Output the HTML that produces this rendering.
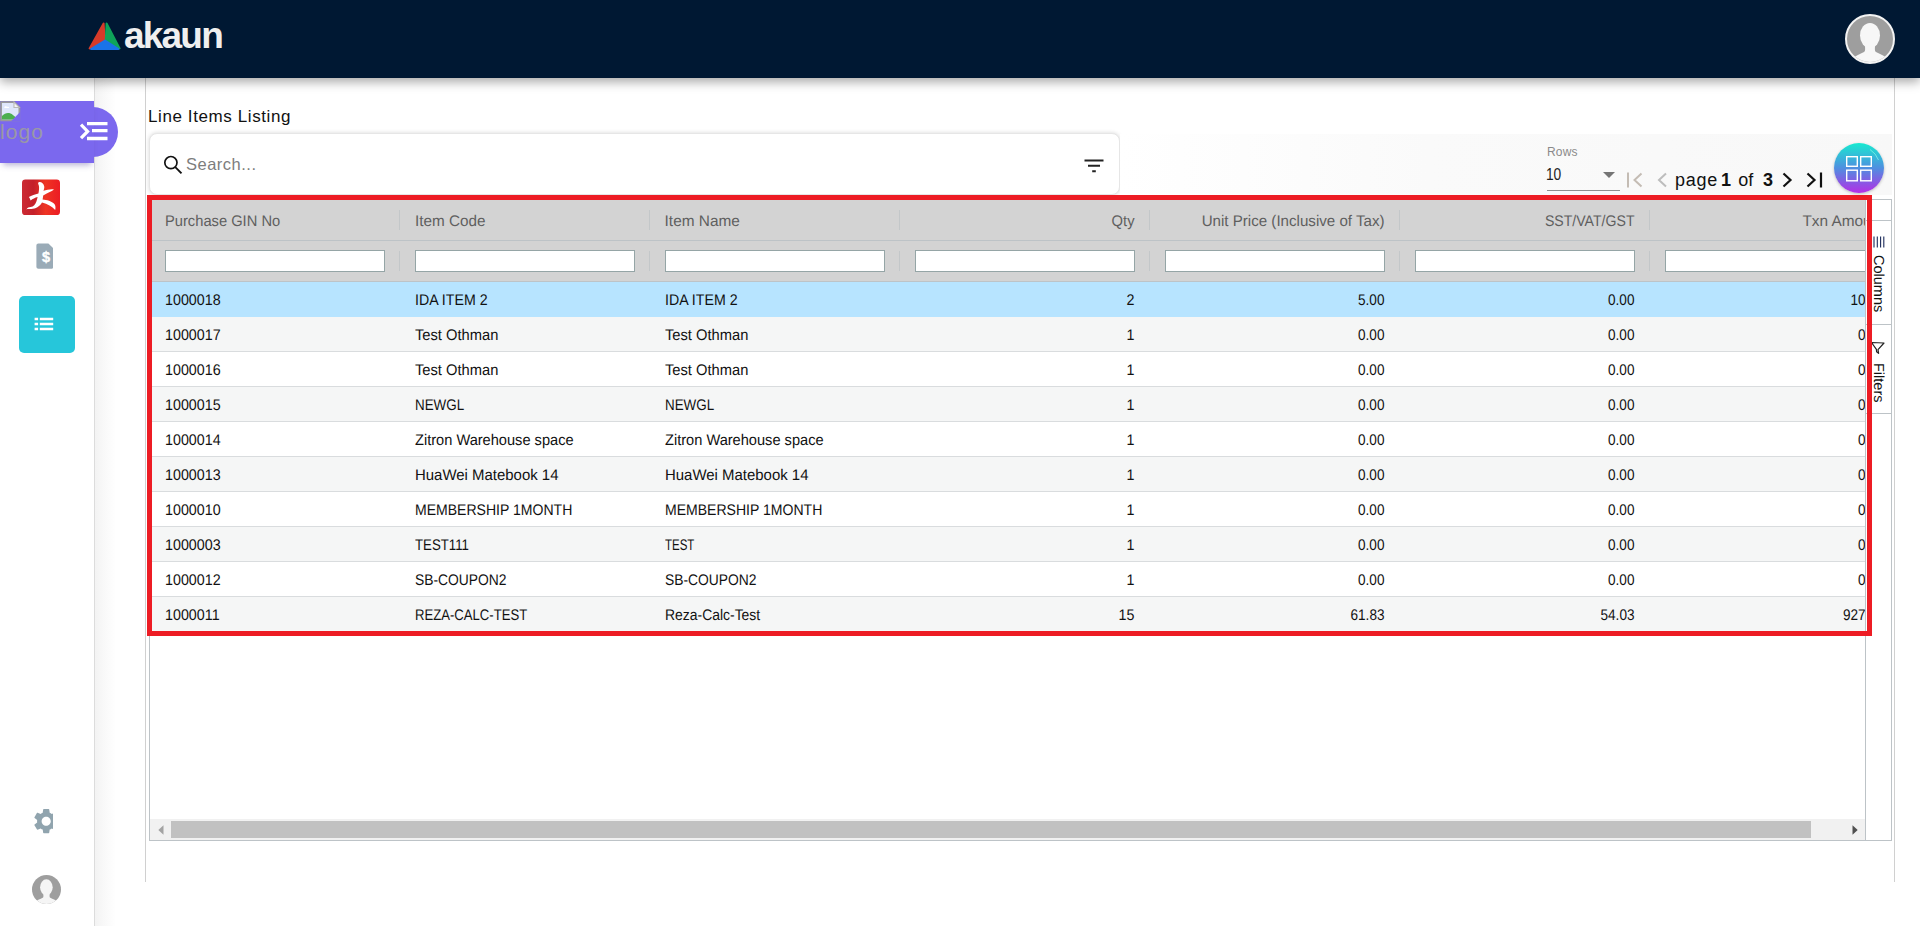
<!DOCTYPE html>
<html lang="en">
<head>
<meta charset="utf-8">
<title>Line Items Listing</title>
<style>
*{box-sizing:border-box;margin:0;padding:0}
html,body{width:1920px;height:926px;overflow:hidden;background:#fff}
body{position:relative;font-family:"Liberation Sans","DejaVu Sans",sans-serif;color:#000}
.abs{position:absolute}
/* top bar */
#topbar{position:absolute;left:0;top:0;width:1920px;height:78px;background:#001833;box-shadow:0 4px 10px rgba(0,0,0,.34);z-index:30}
#brand{position:absolute;left:124px;top:16px;color:#efefef;font-weight:bold;font-size:37px;line-height:40px;letter-spacing:-1.8px;white-space:nowrap}
#avatarTop{position:absolute;left:1845px;top:14px;width:50px;height:50px;border-radius:50%;background:#9e9e9e;border:2px solid #f3f3f3;overflow:hidden}
/* left rail */
#rail{position:absolute;left:0;top:78px;width:95px;height:848px;background:#fff;border-right:1px solid #dcdcdc;z-index:5}
#railshade{position:absolute;left:95px;top:78px;width:50px;height:848px;background:linear-gradient(90deg,#f3f3f3 0,#f8f8f8 8px,#fff 21px);z-index:1}
#vline1{position:absolute;left:145px;top:78px;width:1px;height:804px;background:#d0d0d0;z-index:2}
#vline2{position:absolute;left:1894px;top:78px;width:1px;height:804px;background:#d0d0d0;z-index:2}
#pblock{position:absolute;left:0;top:101px;width:94px;height:62px;background:#7b68ee;box-shadow:0 5px 6px -3px rgba(90,80,160,.45);z-index:10}
#pcirc{position:absolute;left:68px;top:107px;width:50px;height:50px;border-radius:50%;background:#7b68ee;z-index:9}
#logoalt{position:absolute;left:0;top:119px;font-size:21px;line-height:26px;color:#9a98a6;z-index:11;letter-spacing:1.1px}
/* content */
#title{position:absolute;left:148px;top:105px;font-size:17px;line-height:24px;color:#111;white-space:nowrap;letter-spacing:.6px}
#search{position:absolute;left:149px;top:133px;width:971px;height:62px;background:#fff;border:1px solid #e6e6e6;border-radius:8px;box-shadow:0 0 4px rgba(0,0,0,.16)}
#search .ph{position:absolute;left:36px;top:19px;font-size:16.5px;line-height:22px;color:#7d7d7d;letter-spacing:.5px}
#pager{position:absolute;left:1120px;top:134px;width:772px;height:61px;background:linear-gradient(90deg,#fff 0,#fafafa 40%,#f8f8f8 100%)}
.pg{position:absolute;white-space:nowrap;color:#111}
#fab{position:absolute;left:1834px;top:142.5px;width:50px;height:50px;border-radius:50%;z-index:25;box-shadow:0 1px 3px rgba(0,0,0,.25)}
#pgtext b{font-weight:bold}
#pgw{letter-spacing:.75px}#pg1{margin-left:3px}#pgof{margin-left:7.3px}#pg3{margin-left:9.5px}
/* grid */
#grid{position:absolute;left:149px;top:199px;width:1743px;height:642px;border:1px solid #bdc3c7;background:#fff;overflow:hidden;font-size:15.4px;text-rendering:geometricPrecision}
#gclip{position:absolute;left:0;top:0;width:1715px;height:619px;overflow:hidden}
#ghead{position:absolute;left:0;top:0;width:1750px;height:82px;background:#d3d3d3;border-bottom:1px solid #bdc3c7}
#ghead .hl{position:absolute;left:0;top:40px;width:1750px;height:1px;background:#bdc3c7}
.hc{position:absolute;top:1px;height:40px;line-height:42px;color:#5f5f5f;white-space:nowrap;font-size:15.4px}
.sep{position:absolute;width:1px;background:#c3c7c9}
.fi{position:absolute;top:50px;width:220px;height:22px;background:#fff;border:1px solid #95a5a6}
.row{position:absolute;left:0;width:1750px;height:35px;border-bottom:1px solid #d9dcde;line-height:36px;white-space:nowrap;color:#111}
.row.odd{background:#f5f6f6}
.row.sel{background:#b7e4ff;border-bottom-color:#b7e4ff}
.row span{position:absolute;top:1px}
.r{text-align:right}
#sidebar{position:absolute;left:1715px;top:0;width:26px;height:640px;border-left:1px solid #bdc3c7;background:#fff}
.sl{position:absolute;left:0;width:25px;height:1px;background:#bdc3c7}
.vt{position:absolute;left:3px;width:18px;writing-mode:vertical-lr;font-size:14.5px;line-height:18px;color:#111;white-space:nowrap}
#hscroll{position:absolute;left:0;top:619px;width:1715px;height:21px;background:#f1f1f1}
#hthumb{position:absolute;left:21px;top:2px;width:1640px;height:17px;background:#c1c1c1}
#redbox{position:absolute;left:147px;top:195px;width:1725px;height:441px;border:5px solid #ed1c24;z-index:20}
</style>
</head>
<body>

<div id="topbar">
  <svg class="abs" style="left:86px;top:19px" width="38" height="34" viewBox="0 0 38 34">
    <path d="M17.6 4.4 L3.6 29.4 L18.6 20.6 Z" fill="#d63b2a" stroke="#d63b2a" stroke-width="2" stroke-linejoin="round"/>
    <path d="M20.6 4.4 L33.6 29.4 L19.8 20.6 Z" fill="#0fa45a" stroke="#0fa45a" stroke-width="2" stroke-linejoin="round"/>
    <path d="M19 21.6 L5 30 L32.4 30 Z" fill="#1a73e8" stroke="#1a73e8" stroke-width="2" stroke-linejoin="round"/>
  </svg>
  <div id="brand">akaun</div>
  <div id="avatarTop">
    <svg width="46" height="46" viewBox="0 0 46 46"><ellipse cx="23" cy="19.5" rx="10" ry="12.6" fill="#f7f7f7"/><path d="M18 29 C18 33 18.6 35 17 36 C13 38 8.6 39.6 5.6 42.4 V48 H40.4 V42.4 C37.4 39.6 33 38 29 36 C27.4 35 28 33 28 29 Z" fill="#f7f7f7"/></svg>
  </div>
</div>

<div id="rail"></div>
<div id="railshade"></div>
<div id="vline1"></div>
<div id="vline2"></div>
<div id="pcirc"></div>
<div id="pblock"></div>
<div id="logoalt">logo</div>
<!-- rail icons -->
<svg class="abs" style="left:0;top:101px;z-index:11" width="21.5" height="21.5" viewBox="0 0 20 20">
  <path d="M1 1 H13 L18 6 V18 H1 Z" fill="#dfe7fb" stroke="#9a9a9a" stroke-width="1.6"/>
  <path d="M13 1 V6 H18 Z" fill="#f4f4f4" stroke="#b9b9b9" stroke-width="1"/>
  <path d="M1.8 17.2 V14 C5 10.5 9 10.5 12 13 L17.2 17.2 Z" fill="#4caf50"/>
  <path d="M4 6.2 C4 4.6 6 4.4 6.6 5.4 C7.8 5 8.8 5.8 8.6 6.6 H4.2 Z" fill="#fff"/>
  <path d="M10 19 L19 10 V19 Z" fill="#7b68ee"/>
</svg>
<svg class="abs" style="left:78px;top:120px;z-index:11" width="32" height="24" viewBox="0 0 32 24">
  <path d="M3 4.6 L9.6 11.4 L3 18.2" stroke="#fff" stroke-width="3.2" fill="none"/>
  <path d="M9 3.6 H29.5 M14 10.7 H29.5 M9 18.5 H29.5" stroke="#fff" stroke-width="3.3" fill="none"/>
</svg>
<svg class="abs" style="left:22px;top:179px;z-index:6" width="38" height="37" viewBox="0 0 38 37">
  <defs><linearGradient id="rg" x1="0" y1="0" x2="1" y2="0"><stop offset="0" stop-color="#cc2a33"/><stop offset=".3" stop-color="#c4202a"/><stop offset=".62" stop-color="#ee3423"/><stop offset="1" stop-color="#ec1c24"/></linearGradient></defs>
  <rect x="0" y="0.5" width="38" height="35.6" rx="3.4" fill="url(#rg)"/>
  <path d="M16.6 3.2 C19.4 2.6 21.6 4.8 22.2 7.2 C22.6 9 21.8 10.6 21.4 11.8 C25 11.2 28.6 9.8 32 10.6 C29.6 12.6 25.2 14 21.2 16.4 C21 18 20.8 19.2 20.6 20.4 C24.8 20.8 29.8 22 32.4 25 C33.6 26.6 33.8 28.8 33.2 31 C30 27.6 25.6 24.8 20 23.6 C17.6 27.6 13.6 30 9.4 30 C7.6 30.2 5.8 29.6 4.4 30.4 C5.4 28.6 7 28.2 8.6 28 C11.6 27.4 13.4 25.4 14.4 22.4 C15 20.8 15.4 19.4 15.6 18 C13 18.6 10.8 20 8.6 21.4 C8 19.6 7.4 18.6 6.8 18 C9.6 16.6 13 15.6 16.4 14.6 C17 11.6 17.4 8.4 16.8 6.4 C16.4 5.2 15.6 4.4 16.6 3.2 Z" fill="#fff"/>
</svg>
<svg class="abs" style="left:36px;top:243px;z-index:6" width="18" height="27" viewBox="0 0 18 27">
  <path d="M2.4 0.4 H12.4 L17 5 V24.6 C17 25.4 16.6 25.8 15.8 25.8 H2.4 C1.2 25.8 0.4 25 0.4 23.8 V2.4 C0.4 1.2 1.2 0.4 2.4 0.4 Z" fill="#9aabb7"/>
  <text x="10" y="18.6" font-family="Liberation Sans, sans-serif" font-weight="bold" font-size="14.5" stroke="#fff" stroke-width=".4" fill="#fff" text-anchor="middle">$</text>
</svg>
<div class="abs" style="left:19px;top:296px;width:56px;height:57px;border-radius:5px;background:#26c6da;z-index:6">
  <svg class="abs" style="left:15px;top:21px" width="20" height="14" viewBox="0 0 20 14"><path d="M0.6 2 H4.1 M5.8 2 H19.2 M0.6 7 H4.1 M5.8 7 H19.2 M0.6 12 H4.1 M5.8 12 H19.2" stroke="#fff" stroke-width="2.6" fill="none"/></svg>
</div>
<div class="abs" style="left:31px;top:805px;width:22px;height:32px;overflow:hidden;z-index:6">
  <svg style="position:absolute;left:-0.2px;top:0.8px" width="30.4" height="30.4" viewBox="0 0 24 24"><path fill="#90a4ae" d="M19.14 12.94c.04-.3.06-.61.06-.94 0-.32-.02-.64-.07-.94l2.03-1.58a.49.49 0 0 0 .12-.61l-1.92-3.32a.488.488 0 0 0-.59-.22l-2.39.96c-.5-.38-1.03-.7-1.62-.94l-.36-2.54a.484.484 0 0 0-.48-.41h-3.84c-.24 0-.43.17-.47.41l-.36 2.54c-.59.24-1.13.57-1.62.94l-2.39-.96c-.22-.08-.47 0-.59.22L2.74 8.87c-.12.21-.08.47.12.61l2.03 1.58c-.05.3-.09.63-.09.94s.02.64.07.94l-2.03 1.58a.49.49 0 0 0-.12.61l1.92 3.32c.12.22.37.29.59.22l2.39-.96c.5.38 1.03.7 1.62.94l.36 2.54c.05.24.24.41.48.41h3.84c.24 0 .44-.17.47-.41l.36-2.54c.59-.24 1.13-.56 1.62-.94l2.39.96c.22.08.47 0 .59-.22l1.92-3.32c.12-.22.07-.47-.12-.61l-2.01-1.58zM12 15.6c-1.98 0-3.6-1.62-3.6-3.6s1.620-3.6 3.6-3.600 3.600 1.620 3.600 3.600-1.620 3.600-3.600 3.600z"/></svg>
</div>
<div class="abs" style="left:32px;top:875px;width:29px;height:29px;border-radius:50%;background:#9e9e9e;overflow:hidden;z-index:6">
  <svg width="29" height="29" viewBox="0 0 46 46"><ellipse cx="22.8" cy="19.5" rx="10" ry="12.6" fill="#f5f5f5"/><path d="M18 29 C18 33 18.6 35 17 36 C13 38 8.6 39.6 5.6 42.4 V48 H40.4 V42.4 C37.4 39.6 33 38 29 36 C27.4 35 28 33 28 29 Z" fill="#f5f5f5"/></svg>
</div>
<!-- /rail icons -->

<div id="title">Line Items Listing</div>

<div id="search">
  <svg class="abs" style="left:13px;top:21px" width="22" height="22" viewBox="0 0 22 22"><circle cx="7.9" cy="7.6" r="6.1" fill="none" stroke="#111" stroke-width="1.7"/><path d="M12.3 12.1 L18.5 18.3" stroke="#111" stroke-width="1.9" stroke-linecap="butt"/></svg>
  <div class="ph">Search...</div>
  <svg class="abs" style="left:933.5px;top:25px" width="20" height="16" viewBox="0 0 20 16"><path d="M0.5 1.5 H19.5 M4 6.8 H16 M8.2 12.2 H11.8" stroke="#222" stroke-width="2" fill="none"/></svg>
</div>

<div id="pager">
  <div class="pg" style="left:427px;top:10px;font-size:12px;line-height:16px;color:#8a8a8a;letter-spacing:.2px">Rows</div>
  <div class="pg" style="left:426.3px;top:31px;font-size:16px;line-height:20px;color:#222;letter-spacing:-.3px;transform:scaleX(.86);transform-origin:0 50%">10</div>
  <svg class="abs" style="left:483px;top:38px" width="12" height="6" viewBox="0 0 12 6"><path d="M0 0 H12 L6 6 Z" fill="#757575"/></svg>
  <div class="abs" style="left:427px;top:56px;width:73px;height:1px;background:#8e8e8e"></div>
  <svg class="abs" style="left:506px;top:37px" width="20" height="18" viewBox="0 0 20 18"><path d="M2 1.5 V16.5 M15.5 2.5 L8.5 9 L15.5 15.5" stroke="#c4bcb4" stroke-width="2" fill="none"/></svg>
  <svg class="abs" style="left:535px;top:37px" width="14" height="18" viewBox="0 0 14 18"><path d="M11 2.5 L4 9 L11 15.5" stroke="#bdbdbd" stroke-width="2" fill="none"/></svg>
  <div class="pg" id="pgtext" style="left:555px;top:34px;font-size:18px;line-height:24px"><span id="pgw">page</span><b id="pg1">1</b><span id="pgof">of</span><b id="pg3">3</b></div>
  <svg class="abs" style="left:660px;top:37px" width="14" height="18" viewBox="0 0 14 18"><path d="M3.5 2.5 L10.5 9 L3.5 15.5" stroke="#111" stroke-width="2.2" fill="none"/></svg>
  <svg class="abs" style="left:684px;top:37px" width="20" height="18" viewBox="0 0 20 18"><path d="M3.5 2.5 L10.5 9 L3.5 15.5 M17 1.5 V16.5" stroke="#111" stroke-width="2.2" fill="none"/></svg>
</div>
<div id="fab">
  <svg width="50" height="50" viewBox="0 0 50 50">
    <defs><linearGradient id="fg" x1="0" y1="0" x2="0" y2="1"><stop offset="0" stop-color="#17ead0"/><stop offset=".5" stop-color="#4f8fe0"/><stop offset="1" stop-color="#b42ee6"/></linearGradient></defs>
    <circle cx="25" cy="25" r="25" fill="url(#fg)"/>
    <path d="M36 6.5 A22 22 0 0 1 44.5 17" stroke="#7ff3e6" stroke-width="1" fill="none" opacity=".8"/>
    <g fill="none" stroke="#fff" stroke-width="1.4"><rect x="12.7" y="13.7" width="10.6" height="9.6"/><rect x="26.7" y="13.7" width="10.6" height="9.6"/><rect x="12.7" y="27.2" width="10.6" height="10.6"/><rect x="26.7" y="27.2" width="10.6" height="10.6"/></g>
  </svg>
</div>

<div id="grid">
<!--GRID-->
<div id="gclip">
<div id="ghead"><div class="hl"></div>
<div class="hc" style="left:14.6px;transform:scaleX(0.955);transform-origin:0 50%">Purchase GIN No</div>
<div class="sep" style="left:249px;top:10px;height:20px"></div>
<div class="sep" style="left:249px;top:51px;height:20px"></div>
<div class="fi" style="left:15px"></div>
<div class="hc" style="left:264.6px;transform:scaleX(0.993);transform-origin:0 50%">Item Code</div>
<div class="sep" style="left:499px;top:10px;height:20px"></div>
<div class="sep" style="left:499px;top:51px;height:20px"></div>
<div class="fi" style="left:265px"></div>
<div class="hc" style="left:514.6px">Item Name</div>
<div class="sep" style="left:749px;top:10px;height:20px"></div>
<div class="sep" style="left:749px;top:51px;height:20px"></div>
<div class="fi" style="left:515px"></div>
<div class="hc r" style="left:750px;width:234.5px;transform:scaleX(0.957);transform-origin:100% 50%">Qty</div>
<div class="sep" style="left:999px;top:10px;height:20px"></div>
<div class="sep" style="left:999px;top:51px;height:20px"></div>
<div class="fi" style="left:765px"></div>
<div class="hc r" style="left:1000px;width:234.5px;transform:scaleX(0.982);transform-origin:100% 50%">Unit Price (Inclusive of Tax)</div>
<div class="sep" style="left:1249px;top:10px;height:20px"></div>
<div class="sep" style="left:1249px;top:51px;height:20px"></div>
<div class="fi" style="left:1015px"></div>
<div class="hc r" style="left:1250px;width:234.5px;transform:scaleX(0.916);transform-origin:100% 50%">SST/VAT/GST</div>
<div class="sep" style="left:1499px;top:10px;height:20px"></div>
<div class="sep" style="left:1499px;top:51px;height:20px"></div>
<div class="fi" style="left:1265px"></div>
<div class="hc r" style="left:1500px;width:234.5px">Txn Amount</div>
<div class="sep" style="left:1749px;top:10px;height:20px"></div>
<div class="sep" style="left:1749px;top:51px;height:20px"></div>
<div class="fi" style="left:1515px"></div>
</div>
<div class="row sel" style="top:82px"><span style="left:14.6px;transform:scaleX(0.929);transform-origin:0 50%">1000018</span><span style="left:264.6px;transform:scaleX(0.922);transform-origin:0 50%">IDA ITEM 2</span><span style="left:514.6px;transform:scaleX(0.922);transform-origin:0 50%">IDA ITEM 2</span><span class="r" style="left:750px;width:234.5px;transform:scaleX(0.929);transform-origin:100% 50%">2</span><span class="r" style="left:1000px;width:234.5px;transform:scaleX(0.883);transform-origin:100% 50%">5.00</span><span class="r" style="left:1250px;width:234.5px;transform:scaleX(0.883);transform-origin:100% 50%">0.00</span><span class="r" style="left:1500px;width:234.5px;transform:scaleX(0.883);transform-origin:100% 50%">10.00</span></div>
<div class="row odd" style="top:117px"><span style="left:14.6px;transform:scaleX(0.929);transform-origin:0 50%">1000017</span><span style="left:264.6px;transform:scaleX(0.955);transform-origin:0 50%">Test Othman</span><span style="left:514.6px;transform:scaleX(0.955);transform-origin:0 50%">Test Othman</span><span class="r" style="left:750px;width:234.5px;transform:scaleX(0.929);transform-origin:100% 50%">1</span><span class="r" style="left:1000px;width:234.5px;transform:scaleX(0.883);transform-origin:100% 50%">0.00</span><span class="r" style="left:1250px;width:234.5px;transform:scaleX(0.883);transform-origin:100% 50%">0.00</span><span class="r" style="left:1500px;width:234.5px;transform:scaleX(0.883);transform-origin:100% 50%">0.00</span></div>
<div class="row" style="top:152px"><span style="left:14.6px;transform:scaleX(0.929);transform-origin:0 50%">1000016</span><span style="left:264.6px;transform:scaleX(0.955);transform-origin:0 50%">Test Othman</span><span style="left:514.6px;transform:scaleX(0.955);transform-origin:0 50%">Test Othman</span><span class="r" style="left:750px;width:234.5px;transform:scaleX(0.929);transform-origin:100% 50%">1</span><span class="r" style="left:1000px;width:234.5px;transform:scaleX(0.883);transform-origin:100% 50%">0.00</span><span class="r" style="left:1250px;width:234.5px;transform:scaleX(0.883);transform-origin:100% 50%">0.00</span><span class="r" style="left:1500px;width:234.5px;transform:scaleX(0.883);transform-origin:100% 50%">0.00</span></div>
<div class="row odd" style="top:187px"><span style="left:14.6px;transform:scaleX(0.929);transform-origin:0 50%">1000015</span><span style="left:264.6px;transform:scaleX(0.871);transform-origin:0 50%">NEWGL</span><span style="left:514.6px;transform:scaleX(0.871);transform-origin:0 50%">NEWGL</span><span class="r" style="left:750px;width:234.5px;transform:scaleX(0.929);transform-origin:100% 50%">1</span><span class="r" style="left:1000px;width:234.5px;transform:scaleX(0.883);transform-origin:100% 50%">0.00</span><span class="r" style="left:1250px;width:234.5px;transform:scaleX(0.883);transform-origin:100% 50%">0.00</span><span class="r" style="left:1500px;width:234.5px;transform:scaleX(0.883);transform-origin:100% 50%">0.00</span></div>
<div class="row" style="top:222px"><span style="left:14.6px;transform:scaleX(0.929);transform-origin:0 50%">1000014</span><span style="left:264.6px;transform:scaleX(0.949);transform-origin:0 50%">Zitron Warehouse space</span><span style="left:514.6px;transform:scaleX(0.949);transform-origin:0 50%">Zitron Warehouse space</span><span class="r" style="left:750px;width:234.5px;transform:scaleX(0.929);transform-origin:100% 50%">1</span><span class="r" style="left:1000px;width:234.5px;transform:scaleX(0.883);transform-origin:100% 50%">0.00</span><span class="r" style="left:1250px;width:234.5px;transform:scaleX(0.883);transform-origin:100% 50%">0.00</span><span class="r" style="left:1500px;width:234.5px;transform:scaleX(0.883);transform-origin:100% 50%">0.00</span></div>
<div class="row odd" style="top:257px"><span style="left:14.6px;transform:scaleX(0.929);transform-origin:0 50%">1000013</span><span style="left:264.6px;transform:scaleX(0.971);transform-origin:0 50%">HuaWei Matebook 14</span><span style="left:514.6px;transform:scaleX(0.971);transform-origin:0 50%">HuaWei Matebook 14</span><span class="r" style="left:750px;width:234.5px;transform:scaleX(0.929);transform-origin:100% 50%">1</span><span class="r" style="left:1000px;width:234.5px;transform:scaleX(0.883);transform-origin:100% 50%">0.00</span><span class="r" style="left:1250px;width:234.5px;transform:scaleX(0.883);transform-origin:100% 50%">0.00</span><span class="r" style="left:1500px;width:234.5px;transform:scaleX(0.883);transform-origin:100% 50%">0.00</span></div>
<div class="row" style="top:292px"><span style="left:14.6px;transform:scaleX(0.929);transform-origin:0 50%">1000010</span><span style="left:264.6px;transform:scaleX(0.912);transform-origin:0 50%">MEMBERSHIP 1MONTH</span><span style="left:514.6px;transform:scaleX(0.912);transform-origin:0 50%">MEMBERSHIP 1MONTH</span><span class="r" style="left:750px;width:234.5px;transform:scaleX(0.929);transform-origin:100% 50%">1</span><span class="r" style="left:1000px;width:234.5px;transform:scaleX(0.883);transform-origin:100% 50%">0.00</span><span class="r" style="left:1250px;width:234.5px;transform:scaleX(0.883);transform-origin:100% 50%">0.00</span><span class="r" style="left:1500px;width:234.5px;transform:scaleX(0.883);transform-origin:100% 50%">0.00</span></div>
<div class="row odd" style="top:327px"><span style="left:14.6px;transform:scaleX(0.929);transform-origin:0 50%">1000003</span><span style="left:264.6px;transform:scaleX(0.859);transform-origin:0 50%">TEST111</span><span style="left:514.6px;transform:scaleX(0.747);transform-origin:0 50%">TEST</span><span class="r" style="left:750px;width:234.5px;transform:scaleX(0.929);transform-origin:100% 50%">1</span><span class="r" style="left:1000px;width:234.5px;transform:scaleX(0.883);transform-origin:100% 50%">0.00</span><span class="r" style="left:1250px;width:234.5px;transform:scaleX(0.883);transform-origin:100% 50%">0.00</span><span class="r" style="left:1500px;width:234.5px;transform:scaleX(0.883);transform-origin:100% 50%">0.00</span></div>
<div class="row" style="top:362px"><span style="left:14.6px;transform:scaleX(0.929);transform-origin:0 50%">1000012</span><span style="left:264.6px;transform:scaleX(0.899);transform-origin:0 50%">SB-COUPON2</span><span style="left:514.6px;transform:scaleX(0.899);transform-origin:0 50%">SB-COUPON2</span><span class="r" style="left:750px;width:234.5px;transform:scaleX(0.929);transform-origin:100% 50%">1</span><span class="r" style="left:1000px;width:234.5px;transform:scaleX(0.883);transform-origin:100% 50%">0.00</span><span class="r" style="left:1250px;width:234.5px;transform:scaleX(0.883);transform-origin:100% 50%">0.00</span><span class="r" style="left:1500px;width:234.5px;transform:scaleX(0.883);transform-origin:100% 50%">0.00</span></div>
<div class="row odd" style="top:397px"><span style="left:14.6px;transform:scaleX(0.929);transform-origin:0 50%">1000011</span><span style="left:264.6px;transform:scaleX(0.852);transform-origin:0 50%">REZA-CALC-TEST</span><span style="left:514.6px;transform:scaleX(0.905);transform-origin:0 50%">Reza-Calc-Test</span><span class="r" style="left:750px;width:234.5px;transform:scaleX(0.929);transform-origin:100% 50%">15</span><span class="r" style="left:1000px;width:234.5px;transform:scaleX(0.883);transform-origin:100% 50%">61.83</span><span class="r" style="left:1250px;width:234.5px;transform:scaleX(0.883);transform-origin:100% 50%">54.03</span><span class="r" style="left:1500px;width:234.5px;transform:scaleX(0.883);transform-origin:100% 50%">927.45</span></div>
</div>
<!--/GRID-->
  <div id="sidebar">
    <div class="sl" style="top:20px"></div>
    <svg class="abs" style="left:3px;top:36px" width="16" height="12" viewBox="0 0 16 12"><path d="M1.5 0.5 V11.5 M5 0.5 V11.5 M8.3 0.5 V11.5 M11.6 0.5 V11.5 M14.8 0.5 V11.5" stroke="#1b2a5a" stroke-width="1.1" fill="none"/></svg>
    <div class="vt" style="top:55px">Columns</div>
    <div class="sl" style="top:124px"></div>
    <svg class="abs" style="left:4px;top:141px" width="16" height="14" viewBox="0 0 16 14"><path d="M1.5 1.5 L14 2 L8 8.6 L8.6 12.4 L6.6 10.8 L6.4 8.4 Z" stroke="#222" stroke-width="1.2" fill="none" stroke-linejoin="round"/></svg>
    <div class="vt" style="top:163px">Filters</div>
    <div class="sl" style="top:213px"></div>
  </div>
  <div id="hscroll"><div id="hthumb"></div>
    <svg class="abs" style="left:8px;top:6px" width="6" height="10" viewBox="0 0 6 10"><path d="M5.5 0.3 V9.7 L0.3 5 Z" fill="#a3a3a3"/></svg>
    <svg class="abs" style="left:1702px;top:6px" width="6" height="10" viewBox="0 0 6 10"><path d="M0.5 0.3 V9.7 L5.7 5 Z" fill="#505050"/></svg>
  </div>
</div>

<div id="redbox"></div>

</body>
</html>
